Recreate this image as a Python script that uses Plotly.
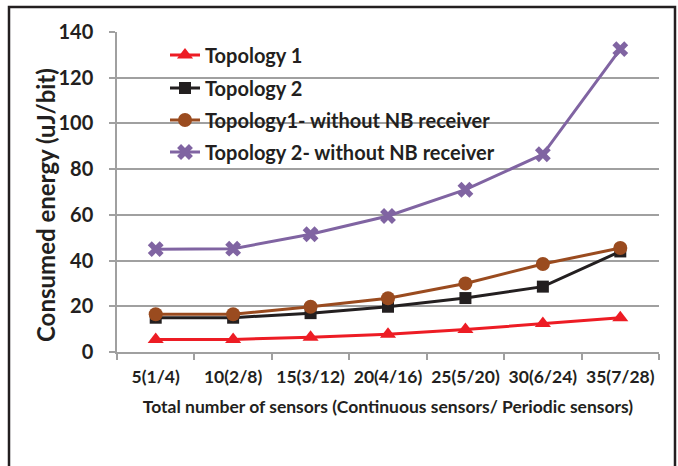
import plotly.graph_objects as go

categories = ["5(1/4)", "10(2/8)", "15(3/12)", "20(4/16)", "25(5/20)", "30(6/24)", "35(7/28)"]
topology1 = [5.5, 5.5, 6.5, 7.8, 9.8, 12.5, 15.0]
topology2 = [15.0, 15.0, 17.0, 19.8, 23.6, 28.6, 44.0]
topology1_nonb = [16.5, 16.5, 19.8, 23.5, 30.0, 38.5, 45.5]
topology2_nonb = [45.0, 45.2, 51.5, 59.5, 71.0, 86.5, 132.5]
y_ticks = [0, 20, 40, 60, 80, 100, 120, 140]
x_title = "Total number of sensors (Continuous sensors/ Periodic sensors)"
y_title = "Consumed energy (uJ/bit)"

FONT = "Lato"
TXT = "#231F20"

series = [
    ("Topology 1", topology1, "#ED1C24", "triangle-up", 14, "legend"),
    ("Topology 2", topology2, "#231F20", "square", 12, "legend2"),
    ("Topology1- without NB receiver", topology1_nonb, "#9A4B1F", "circle", 14, "legend3"),
    ("Topology 2- without NB receiver", topology2_nonb, "#8064A2", "x", 14, "legend4"),
]

fig = go.Figure()
for name, vals, col, sym, sz, lg in series:
    fig.add_trace(go.Scatter(
        x=categories, y=vals, name=name, mode="lines+markers",
        line=dict(color=col, width=3),
        marker=dict(symbol=sym, size=sz, color=col, line=dict(width=0)),
        legend=lg,
    ))

L, R, T, B = 117, 19, 32, 114
W, H = 678, 466
pw, ph = W - L - R, H - T - B

def px_x(x):
    return (x - L) / pw

def px_y(y):
    return (H - B - y) / ph

legend_common = dict(font=dict(family=FONT, size=20, color=TXT, weight="bold"),
                     bgcolor="rgba(0,0,0,0)", xanchor="left", yanchor="middle",
                     itemwidth=30)
rows = [55, 88, 120, 152]
lay_leg = {}
for i, key in enumerate(["legend", "legend2", "legend3", "legend4"]):
    lay_leg[key] = dict(legend_common, x=px_x(165), y=px_y(rows[i]))

fig.update_layout(
    width=W, height=H,
    margin=dict(l=L, r=R, t=T, b=B, autoexpand=False),
    paper_bgcolor="white", plot_bgcolor="white",
    font=dict(family=FONT, color=TXT),
    showlegend=True,
    **lay_leg,
    xaxis=dict(
        type="category", tickson="boundaries", ticks="outside", ticklen=6,
        tickcolor="#A0A0A0", tickwidth=1.5, automargin=False, tickangle=0,
        showline=True, linecolor="#A0A0A0", linewidth=1.5,
        showgrid=False, tickfont=dict(family=FONT, size=17.5, color=TXT, weight="bold"),
        ticklabelstandoff=8,
        title=dict(text=x_title,
                   font=dict(family=FONT, size=17.5, color=TXT, weight="bold"), standoff=15),
        range=[-0.5, 6.5],
    ),
    yaxis=dict(
        range=[0, 140], tickvals=y_ticks, ticks="outside", ticklen=6,
        tickcolor="#A0A0A0", tickwidth=1.5, automargin=False,
        showline=True, linecolor="#A0A0A0", linewidth=1.5,
        showgrid=True, gridcolor="#A0A0A0", gridwidth=1.5, zeroline=False,
        tickfont=dict(family=FONT, size=20, color=TXT, weight="bold"),
        ticklabelstandoff=12,
    ),
    annotations=[dict(text=y_title, xref="paper", yref="paper",
                      x=px_x(45), y=px_y(205), xanchor="center", yanchor="middle",
                      textangle=-90, showarrow=False,
                      font=dict(family=FONT, size=24, color=TXT, weight="bold"))],
    shapes=[dict(type="rect", xref="paper", yref="paper",
                 x0=px_x(9), x1=px_x(675), y0=px_y(475), y1=px_y(7),
                 line=dict(color="#231F20", width=2.5), fillcolor="rgba(0,0,0,0)",
                 layer="below")],
)

fig.write_html("out.html", config={"displayModeBar": False},
               post_script="document.body.style.margin='0';document.body.style.overflow='hidden';")
